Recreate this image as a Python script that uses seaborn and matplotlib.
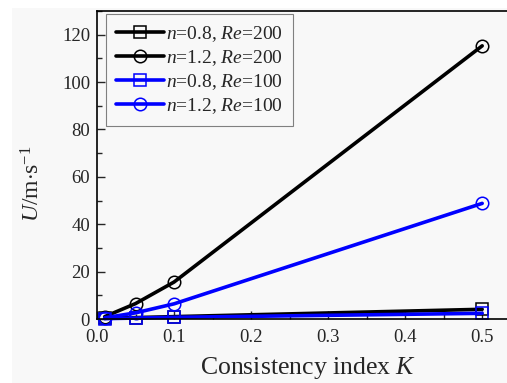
import matplotlib
matplotlib.use("Agg")
import matplotlib.pyplot as plt
import seaborn as sns
import pandas as pd
from matplotlib.ticker import MultipleLocator
from matplotlib.patches import Rectangle

K = [0.01, 0.05, 0.1, 0.5]
u_n08_re200 = [0.3, 0.6, 1.0, 4.1]
u_n12_re200 = [1.0, 6.5, 15.6, 115.3]
u_n08_re100 = [0.15, 0.4, 0.7, 2.4]
u_n12_re100 = [0.5, 2.6, 6.4, 48.8]
labels = [r"$n$=0.8, $Re$=200", r"$n$=1.2, $Re$=200",
          r"$n$=0.8, $Re$=100", r"$n$=1.2, $Re$=100"]
series = [u_n08_re200, u_n12_re200, u_n08_re100, u_n12_re100]
colors = ["black", "black", "#0000ff", "#0000ff"]
markers = ["s", "o", "s", "o"]

sns.set_style("ticks")
plt.rcParams["font.family"] = ["Liberation Serif", "DejaVu Serif"]
plt.rcParams["mathtext.fontset"] = "custom"
plt.rcParams["mathtext.it"] = "Liberation Serif:italic"
plt.rcParams["mathtext.rm"] = "Liberation Serif"

bg = "#f8f8f8"
fig = plt.figure(figsize=(5.07, 3.83), dpi=100, facecolor="white")
fig.patches.append(Rectangle((12 / 507, 0), 1, 375 / 383, transform=fig.transFigure,
                             facecolor=bg, edgecolor="none", zorder=-10))
ax = fig.add_axes([97 / 507, 1 - 319 / 383, 416 / 507, (319 - 11) / 383])
ax.set_facecolor(bg)

for vals, lab, c, m in zip(series, labels, colors, markers):
    df = pd.DataFrame({"K": K, "U": vals})
    sns.lineplot(data=df, x="K", y="U", ax=ax, color=c, marker=m, linewidth=2.6,
                 markersize=9, markerfacecolor="none", markeredgecolor=c,
                 markeredgewidth=1.1, label=lab, clip_on=False)

ax.set_xlim(0, 0.54)
ax.set_ylim(0, 130)
ax.xaxis.set_major_locator(MultipleLocator(0.1))
ax.xaxis.set_minor_locator(MultipleLocator(0.05))
ax.yaxis.set_major_locator(MultipleLocator(20))
ax.yaxis.set_minor_locator(MultipleLocator(10))
ax.set_xticks([0.0, 0.1, 0.2, 0.3, 0.4, 0.5])
ax.set_xticklabels(["0.0", "0.1", "0.2", "0.3", "0.4", "0.5"])
ax.tick_params(which="major", direction="in", length=6, width=1, labelsize=13.5,
               top=False, right=False)
ax.tick_params(axis="x", which="major", pad=7)
ax.tick_params(axis="y", which="major", pad=5)
ax.tick_params(which="minor", direction="in", length=3.5, width=1, top=False, right=False)
for s in ["left", "bottom", "top", "right"]:
    ax.spines[s].set_linewidth(1.2)
    ax.spines[s].set_color("black")

ax.set_xlabel(r"Consistency index $K$", fontsize=18.5)
ax.xaxis.set_label_coords((308 - 97) / 416, -(355 - 319) / 308)
ax.set_ylabel(r"$U$/m$\cdot$s$^{-1}$", fontsize=17)
ax.yaxis.set_label_coords(-(97 - 44) / 416, 0.44)

leg = ax.legend(loc="upper left", bbox_to_anchor=((106 - 97) / 416, 1 - (14 - 11) / 308),
                fontsize=14, frameon=True, fancybox=False, edgecolor="#808080",
                facecolor=bg, framealpha=1, handlelength=2.5, handletextpad=0.1,
                labelspacing=0.22, borderpad=0.5, borderaxespad=0.0)
leg.get_frame().set_linewidth(0.8)

fig.savefig("out.png", dpi=100, facecolor=fig.get_facecolor())
